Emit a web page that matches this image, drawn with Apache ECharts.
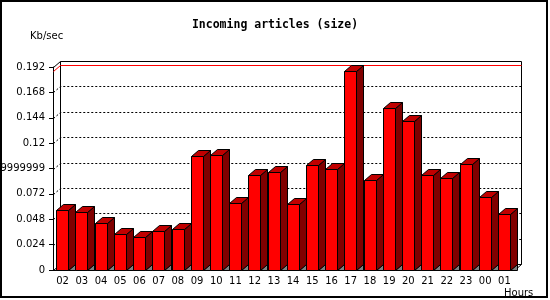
<!DOCTYPE html>
<html>
<head>
<meta charset="utf-8">
<script src="https://cdn.jsdelivr.net/npm/echarts@6/dist/echarts.min.js"></script>
<style>
  html, body { margin: 0; padding: 0; background: #fff; }
  #chart { width: 550px; height: 300px; }
</style>
</head>
<body>
<div id="chart"></div>
<script>
// values
const hours = ['02', '03', '04', '05', '06', '07', '08', '09', '10', '11', '12', '13',
               '14', '15', '16', '17', '18', '19', '20', '21', '22', '23', '00', '01'];
const sizeKbSec = [0.0565, 0.0546, 0.0442, 0.0338, 0.0309, 0.0366, 0.0385, 0.1078,
                   0.1085, 0.0634, 0.0896, 0.0930, 0.0621, 0.0993, 0.0952, 0.1880,
                   0.0848, 0.1530, 0.1406, 0.0896, 0.0867, 0.1000, 0.0688, 0.0527];
const yTickLabels = ['0', '0.024', '0.048', '0.072', '0.0959999999', '0.12', '0.144', '0.168', '0.192'];
const yStep = 0.024;
const yMax = 0.192;

const DX = 7;   // 3d depth, horizontal
const DY = 6;   // 3d depth, vertical
const FONT = 'DejaVu Sans';

const chart = echarts.init(document.getElementById('chart'), null, { renderer: 'canvas' });

const crisp = v => Math.round(v) + 0.5;

// back walls, dashed grid and the red max line
function renderFrame(params, api) {
    const cs = params.coordSys;
    const x0 = crisp(cs.x);
    const x1 = crisp(cs.x + cs.width);
    const yb = crisp(api.coord([0, 0])[1]);
    const yt = crisp(api.coord([0, yMax])[1]);
    const black = { stroke: '#000', lineWidth: 1, fill: null };
    const children = [
        { type: 'polyline', shape: { points: [[x0, yt], [x0 + DX, yt - DY], [x1 + DX, yt - DY], [x1 + DX, yb - DY], [x1, yb]] }, style: black },
        { type: 'line', shape: { x1: x0 + DX, y1: yt - DY, x2: x0 + DX, y2: yb - DY }, style: black },
        { type: 'polyline', shape: { points: [[x0, yb], [x0 + DX, yb - DY], [x1 + DX, yb - DY]] }, style: black }
    ];
    yTickLabels.forEach((lbl, k) => {
        if (k === 0 || k === yTickLabels.length - 1) return;
        const y = crisp(api.coord([0, k * yStep])[1]);
        children.push({
            type: 'polyline',
            shape: { points: [[x0, y], [x0 + DX, y - DY], [x1 + DX, y - DY]] },
            style: { stroke: '#000', lineWidth: 1, lineDash: [2, 2], fill: null }
        });
    });
    const ym = crisp(api.coord([0, Math.max(...sizeKbSec)])[1]);
    children.push({
        type: 'polyline',
        shape: { points: [[x0, ym], [x0 + DX, ym - DY], [x1 + DX, ym - DY]] },
        style: { stroke: '#ff0000', lineWidth: 1, fill: null }
    });
    return { type: 'group', children: children };
}

function renderBar(params, api) {
    const i = api.value(0);
    const base = api.coord([i, 0]);
    const top = api.coord([i, api.value(1)]);
    const band = api.size([1, 0])[0];
    const xL = crisp(base[0] - band / 2 + band * 0.17);
    const xR = xL + Math.round(band * 0.6);
    const y0 = crisp(base[1]);
    const yT = crisp(top[1]);
    const edge = { stroke: '#000', lineWidth: 1 };
    return {
        type: 'group',
        children: [
            { type: 'polygon', shape: { points: [[xR, y0], [xR + DX, y0 - DY], [xR + DX, y0]] },
              style: Object.assign({ fill: '#808080' }, edge) },
            { type: 'polygon', shape: { points: [[xR, yT], [xR + DX, yT - DY], [xR + DX, y0 - DY], [xR, y0]] },
              style: Object.assign({ fill: '#800000' }, edge) },
            { type: 'polygon', shape: { points: [[xL, yT], [xL + DX, yT - DY], [xR + DX, yT - DY], [xR, yT]] },
              style: Object.assign({ fill: '#c00000' }, edge) },
            { type: 'rect', shape: { x: xL, y: yT, width: xR - xL, height: y0 - yT },
              style: Object.assign({ fill: '#ff0000' }, edge) }
        ]
    };
}

chart.setOption({
    animation: false,
    backgroundColor: '#fff',
    title: [
        {
            text: 'Incoming articles (size)',
            left: 'center', top: 19, padding: 0,
            textStyle: { fontFamily: 'DejaVu Sans Mono', fontWeight: 'bold', fontSize: 11.5, color: '#000' }
        },
        {
            text: 'Kb/sec',
            left: 30, top: 31, padding: 0,
            textStyle: { fontFamily: FONT, fontWeight: 'normal', fontSize: 10, color: '#000' }
        }
    ],
    graphic: [{
        type: 'rect', z: 100,
        shape: { x: 1, y: 1, width: 546, height: 296 },
        style: { stroke: '#000', lineWidth: 2, fill: null }
    }],
    grid: { left: 53, right: 36, top: 67, bottom: 30, containLabel: false, outerBoundsMode: 'none' },
    xAxis: {
        type: 'category',
        data: hours,
        boundaryGap: true,
        name: 'Hours',
        nameLocation: 'end',
        nameGap: -10,
        nameTextStyle: { fontFamily: FONT, fontSize: 10, color: '#000', align: 'left', verticalAlign: 'top', padding: [18, 0, 0, 0] },
        axisLine: { lineStyle: { color: '#000', width: 1 } },
        axisTick: { length: 4, lineStyle: { color: '#000' } },
        axisLabel: { fontFamily: FONT, fontSize: 10, color: '#000', margin: 6, interval: 0 },
        splitLine: { show: false }
    },
    yAxis: {
        type: 'value',
        min: 0,
        max: yMax,
        interval: yStep,
        axisLine: { show: true, lineStyle: { color: '#000', width: 1 } },
        axisTick: { show: true, length: 4, lineStyle: { color: '#000' } },
        axisLabel: {
            fontFamily: FONT, fontSize: 10, color: '#000', margin: 8,
            formatter: v => yTickLabels[Math.round(v / yStep)]
        },
        splitLine: { show: false }
    },
    series: [
        {
            type: 'custom',
            silent: true,
            clip: false,
            z: 1,
            data: [[0, 0]],
            renderItem: renderFrame
        },
        {
            type: 'custom',
            silent: true,
            clip: false,
            z: 2,
            encode: { x: 0, y: 1 },
            data: hours.map((h, i) => [i, sizeKbSec[i]]),
            renderItem: renderBar
        }
    ]
});
</script>
</body>
</html>
